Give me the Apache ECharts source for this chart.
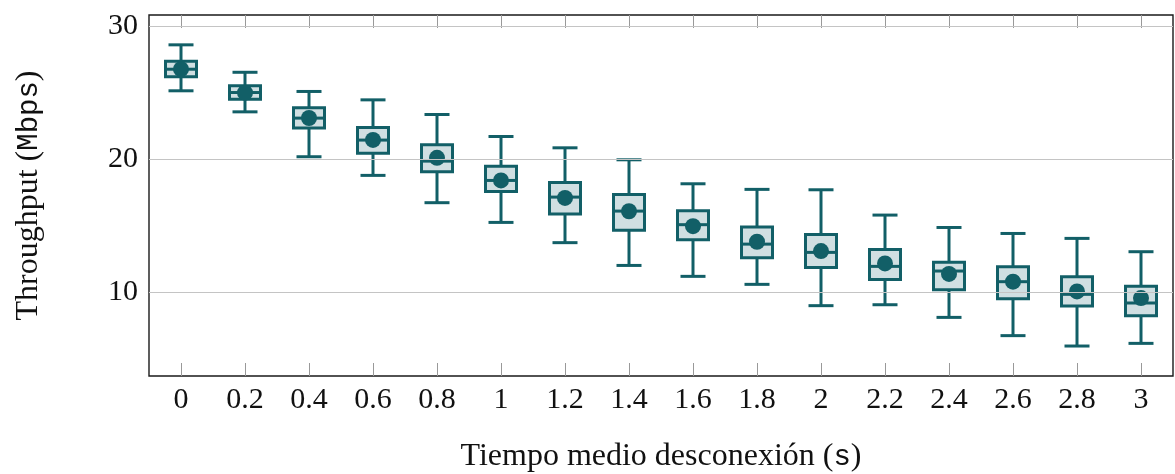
<!DOCTYPE html>
<html>
	<head>
		<meta charset="UTF-8">
		<title></title>
		<script type="text/javascript" src="https://cdn.jsdelivr.net/npm/echarts@6/dist/echarts.min.js"></script>
	</head>
	<body style="margin:0;">
		<div id="main" style="width: 1175px;height: 474px;"></div>
		<script type="text/javascript">
			// tiempo medio de desconexion (s)
			var xLabels = ['0', '0.2', '0.4', '0.6', '0.8', '1', '1.2', '1.4', '1.6', '1.8', '2', '2.2', '2.4', '2.6', '2.8', '3'];
			// throughput (Mbps)
			var whiskerLow  = [25.14, 23.56, 20.19, 18.79, 16.74, 15.26, 13.74, 12.03, 11.21, 10.61, 9.01, 9.08, 8.13, 6.76, 5.98, 6.18];
			var q1          = [26.19, 24.51, 22.34, 20.46, 19.06, 17.58, 15.89, 14.68, 13.96, 12.61, 11.88, 10.98, 10.21, 9.53, 8.98, 8.26];
			var median      = [26.76, 25.01, 23.09, 21.44, 19.86, 18.41, 17.16, 16.11, 15.09, 13.63, 13.01, 11.96, 11.61, 10.81, 9.86, 9.21];
			var q3          = [27.36, 25.51, 23.86, 22.39, 21.09, 19.48, 18.26, 17.36, 16.13, 14.91, 14.36, 13.23, 12.26, 11.93, 11.18, 10.46];
			var whiskerHigh = [28.59, 26.53, 25.09, 24.46, 23.36, 21.71, 20.86, 19.96, 18.16, 17.74, 17.71, 15.81, 14.88, 14.43, 14.06, 13.06];
			var mean        = [26.76, 25.00, 23.10, 21.45, 20.11, 18.41, 17.10, 16.10, 14.98, 13.81, 13.11, 12.18, 11.39, 10.81, 10.08, 9.58];
			var yTicks = [10, 20, 30];
			var yMin = 3.73, yMax = 30.83;

			var teal = '#125f67';
			var boxFill = '#d0dfe2';
			var serif = 'Liberation Serif';
			var mono = 'Liberation Mono';

			var boxData = [];
			for (var i = 0; i < xLabels.length; i++) {
				boxData.push([i, whiskerLow[i], q1[i], median[i], q3[i], whiskerHigh[i]]);
			}
			var meanData = mean.map(function (v, i) { return [i, v]; });

			function renderBox(params, api) {
				var x = api.value(0);
				var lo = api.coord([x, api.value(1)]);
				var b1 = api.coord([x, api.value(2)]);
				var md = api.coord([x, api.value(3)]);
				var b3 = api.coord([x, api.value(4)]);
				var hi = api.coord([x, api.value(5)]);
				var cx = lo[0];
				var hw = 15.5, cw = 12.5;
				var ln = {stroke: teal, lineWidth: 3};
				return {
					type: 'group',
					children: [
						{type: 'line', shape: {x1: cx, y1: hi[1], x2: cx, y2: b3[1]}, style: ln},
						{type: 'line', shape: {x1: cx, y1: b1[1], x2: cx, y2: lo[1]}, style: ln},
						{type: 'line', shape: {x1: cx - cw, y1: hi[1], x2: cx + cw, y2: hi[1]}, style: ln},
						{type: 'line', shape: {x1: cx - cw, y1: lo[1], x2: cx + cw, y2: lo[1]}, style: ln},
						{type: 'rect', shape: {x: cx - hw, y: b3[1], width: hw * 2, height: b1[1] - b3[1]},
							style: {fill: boxFill, stroke: teal, lineWidth: 3}},
						{type: 'line', shape: {x1: cx - hw, y1: md[1], x2: cx + hw, y2: md[1]}, style: ln}
					]
				};
			}

			var myChart = echarts.init(document.getElementById('main'));
			var tickStyle = {show: true, inside: true, length: 13, lineStyle: {color: '#999', width: 1}};
			var nameStyle = {fontFamily: serif, fontSize: 32, color: '#111', rich: {m: {fontFamily: mono, fontSize: 29, color: '#111'}}};

			myChart.setOption({
				animation: false,
				grid: {left: 149, right: 2, top: 15, bottom: 98, outerBoundsMode: 'none', show: true, borderColor: '#1a1a1a', borderWidth: 1.4, backgroundColor: 'transparent'},
				xAxis: [{
					type: 'category',
					data: xLabels,
					position: 'bottom',
					boundaryGap: true,
					axisLine: {show: false},
					axisTick: Object.assign({alignWithLabel: true}, tickStyle),
					axisLabel: {fontFamily: serif, fontSize: 30, color: '#111', margin: 9},
					splitLine: {show: false},
					name: 'Tiempo medio desconexión ({m|s})',
					nameLocation: 'middle',
					nameGap: 65,
					nameTextStyle: nameStyle
				}, {
					type: 'category',
					data: xLabels,
					position: 'top',
					boundaryGap: true,
					axisLine: {show: false},
					axisTick: Object.assign({alignWithLabel: true}, tickStyle),
					axisLabel: {show: false},
					splitLine: {show: false}
				}],
				yAxis: [{
					type: 'value',
					min: yMin,
					max: yMax,
					position: 'left',
					axisLine: {show: false},
					axisTick: Object.assign({customValues: yTicks}, tickStyle),
					axisLabel: {customValues: yTicks, fontFamily: serif, fontSize: 30, color: '#111', margin: 11},
					splitLine: {show: false},
					name: 'Throughput ({m|Mbps})',
					nameLocation: 'middle',
					nameGap: 104,
					nameTextStyle: nameStyle
				}, {
					type: 'value',
					min: yMin,
					max: yMax,
					position: 'right',
					axisLine: {show: false},
					axisTick: Object.assign({customValues: yTicks}, tickStyle),
					axisLabel: {show: false},
					splitLine: {show: false}
				}],
				series: [{
					type: 'line',
					data: [],
					z: 1,
					markLine: {
						silent: true,
						symbol: 'none',
						label: {show: false},
						lineStyle: {color: '#c4c4c4', type: 'solid', width: 1.2},
						data: yTicks.map(function (v) { return {yAxis: v}; })
					}
				}, {
					type: 'custom',
					z: 2,
					renderItem: renderBox,
					encode: {x: 0, y: [1, 2, 3, 4, 5]},
					data: boxData
				}, {
					type: 'scatter',
					z: 3,
					symbol: 'circle',
					symbolSize: 16,
					itemStyle: {color: teal, opacity: 1},
					data: meanData
				}]
			});
		</script>
	</body>
</html>
